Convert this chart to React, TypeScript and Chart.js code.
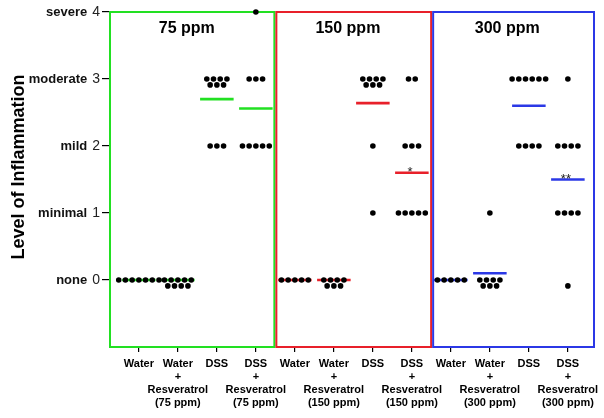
import { useEffect, useRef } from 'react';
import { Chart, registerables } from 'chart.js';

Chart.register(...registerables);

const FONT = '"Liberation Sans", Arial, Helvetica, sans-serif';

const categoryLabels: string[][] = [
  ['Water'], ['Water', '+', 'Resveratrol', '(75 ppm)'], ['DSS'], ['DSS', '+', 'Resveratrol', '(75 ppm)'],
  ['Water'], ['Water', '+', 'Resveratrol', '(150 ppm)'], ['DSS'], ['DSS', '+', 'Resveratrol', '(150 ppm)'],
  ['Water'], ['Water', '+', 'Resveratrol', '(300 ppm)'], ['DSS'], ['DSS', '+', 'Resveratrol', '(300 ppm)'],
];
const panelTitles = ['75 ppm', '150 ppm', '300 ppm'];
const panelColors = ['#22e022', '#e8202a', '#2b38e6'];
const yTickValues = [0, 1, 2, 3, 4];
const yTickWords = ['none', 'minimal', 'mild', 'moderate', 'severe'];
const yTitle = 'Level of Inflammation';

// per group: [score, number of animals, stacked row (0 = main row, 1 = row below)]
const scores: [number, number, number][][] = [
  [[0, 7, 0]],
  [[0, 5, 0], [0, 4, 1]],
  [[3, 4, 0], [3, 3, 1], [2, 3, 0]],
  [[4, 1, 0], [3, 3, 0], [2, 5, 0]],
  [[0, 5, 0]],
  [[0, 4, 0], [0, 3, 1]],
  [[3, 4, 0], [3, 3, 1], [2, 1, 0], [1, 1, 0]],
  [[3, 2, 0], [2, 3, 0], [1, 5, 0]],
  [[0, 5, 0]],
  [[1, 1, 0], [0, 4, 0], [0, 3, 1]],
  [[3, 6, 0], [2, 4, 0]],
  [[3, 1, 0], [2, 4, 0], [1, 4, 0], [0, 1, 1]],
];
const groupMeans = [0, 0, 2.7, 2.56, 0, 0, 2.64, 1.6, 0, 0.1, 2.6, 1.5];
const sigMarks = ['', '', '', '', '', '', '', '*', '', '', '', '**'];

// layout (category units)
const DOT_STEP = 0.172;
const ROW_DROP = 0.088;
const MEAN_HALF = 0.43;
const X_MIN = -0.74;
const X_MAX = 11.67;
const PANEL_EDGES = [X_MIN, 3.5, 7.52, X_MAX];

export default function App() {
  const ref = useRef<HTMLCanvasElement | null>(null);

  useEffect(() => {
    document.body.style.margin = '0';
    const canvas = ref.current;
    if (!canvas) return;

    const dotPoints: { x: number; y: number }[] = [];
    scores.forEach((rows, g) =>
      rows.forEach(([v, n, row]) => {
        for (let k = 0; k < n; k++) {
          dotPoints.push({ x: g + (k - (n - 1) / 2) * DOT_STEP, y: v - row * ROW_DROP });
        }
      })
    );

    const meanSets = groupMeans.map((m, g) => ({
      type: 'line' as const,
      data: [
        { x: g - MEAN_HALF, y: m },
        { x: g + MEAN_HALF, y: m },
      ],
      borderColor: panelColors[Math.floor(g / 4)],
      backgroundColor: panelColors[Math.floor(g / 4)],
      borderWidth: 2.6,
      pointRadius: 0,
      showLine: true,
      order: 2,
    }));

    const decor = {
      id: 'decor',
      beforeDatasetsDraw(chart: any) {
        const { ctx, chartArea, scales } = chart;
        const x = scales.x;
        ctx.save();
        ctx.lineWidth = 2;
        for (let p = 0; p < 3; p++) {
          const l = x.getPixelForValue(PANEL_EDGES[p]) + (p === 0 ? 0 : 1);
          const r = x.getPixelForValue(PANEL_EDGES[p + 1]) - (p === 2 ? 0 : 1);
          ctx.strokeStyle = panelColors[p];
          ctx.strokeRect(l, chartArea.top, r - l, chartArea.bottom - chartArea.top);
        }
        ctx.restore();
      },
      afterDraw(chart: any) {
        const { ctx, chartArea, scales } = chart;
        const x = scales.x;
        const y = scales.y;
        ctx.save();
        ctx.fillStyle = '#000';
        // panel titles
        ctx.font = `bold 16px ${FONT}`;
        ctx.textAlign = 'center';
        ctx.textBaseline = 'alphabetic';
        for (let p = 0; p < 3; p++) {
          const mid = (PANEL_EDGES[p] + PANEL_EDGES[p + 1]) / 2 - 0.15;
          ctx.fillText(panelTitles[p], x.getPixelForValue(mid), chartArea.top + 21);
        }
        // y tick labels
        ctx.textAlign = 'right';
        ctx.textBaseline = 'middle';
        yTickValues.forEach((v, i) => {
          const py = y.getPixelForValue(v);
          ctx.font = `14px ${FONT}`;
          ctx.fillStyle = '#222';
          const num = String(v);
          ctx.fillText(num, 100, py + 0.5);
          const w = ctx.measureText(num).width;
          ctx.font = `bold 13px ${FONT}`;
          ctx.fillStyle = '#111';
          ctx.fillText(yTickWords[i], 100 - w - 5, py);
        });
        // y title
        ctx.save();
        ctx.translate(19, 167);
        ctx.rotate(-Math.PI / 2);
        ctx.font = `bold 18px ${FONT}`;
        ctx.fillStyle = '#000';
        ctx.textAlign = 'center';
        ctx.textBaseline = 'middle';
        ctx.fillText(yTitle, 0, 0);
        ctx.restore();
        // significance marks
        ctx.font = `13px ${FONT}`;
        ctx.fillStyle = '#222';
        ctx.textAlign = 'center';
        ctx.textBaseline = 'alphabetic';
        sigMarks.forEach((s, g) => {
          if (!s) return;
          ctx.fillText(s, x.getPixelForValue(g - 0.05), y.getPixelForValue(groupMeans[g]) + 3);
        });
        ctx.restore();
      },
    };

    const chart = new Chart(canvas, {
      type: 'scatter',
      data: {
        datasets: [
          {
            data: dotPoints,
            backgroundColor: '#000',
            borderColor: '#000',
            borderWidth: 0,
            pointRadius: 2.8,
            pointHoverRadius: 2.8,
            clip: false as any,
            order: 1,
          } as any,
          ...meanSets,
        ],
      },
      options: {
        animation: false,
        responsive: false,
        events: [],
        layout: { padding: { top: 12, right: 10, left: 0, bottom: 0 } },
        plugins: { legend: { display: false }, tooltip: { enabled: false } },
        scales: {
          x: {
            type: 'linear',
            min: X_MIN,
            max: X_MAX,
            afterBuildTicks: (axis: any) => {
              axis.ticks = categoryLabels.map((_, i) => ({ value: i }));
            },
            afterFit: (axis: any) => {
              axis.height = 71;
            },
            border: { display: false },
            grid: { drawOnChartArea: false, drawTicks: true, tickLength: 5, color: '#000', lineWidth: 1.2 },
            ticks: {
              autoSkip: false,
              maxRotation: 0,
              minRotation: 0,
              padding: 5,
              color: '#000',
              font: { family: FONT, size: 11, weight: 'bold', lineHeight: 1.2 },
              callback: (v: any) => categoryLabels[Math.round(Number(v))] ?? '',
            },
          },
          y: {
            type: 'linear',
            min: -1,
            max: 4,
            afterBuildTicks: (axis: any) => {
              axis.ticks = yTickValues.map((v) => ({ value: v }));
            },
            afterFit: (axis: any) => {
              axis.width = 110;
            },
            border: { display: false },
            grid: { drawOnChartArea: false, drawTicks: true, tickLength: 8, color: '#000', lineWidth: 1.2 },
            ticks: { display: false },
          },
        },
      } as any,
      plugins: [decor],
    });

    return () => chart.destroy();
  }, []);

  return (
    <div style={{ position: 'absolute', left: 0, top: 0, width: 604, height: 418, background: '#fff' }}>
      <canvas ref={ref} width={604} height={418} />
    </div>
  );
}
